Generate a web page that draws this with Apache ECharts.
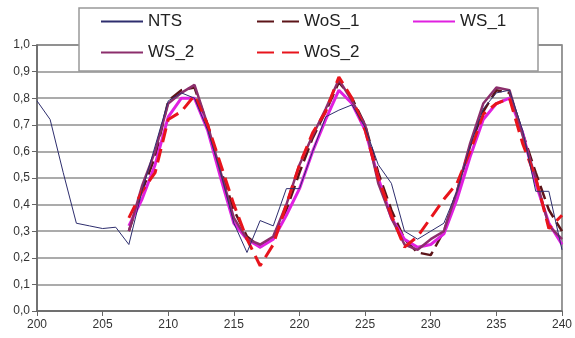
<!DOCTYPE html>
<html>
<head>
<meta charset="utf-8">
<script src="https://cdn.jsdelivr.net/npm/echarts@6/dist/echarts.min.js"></script>
<style>
  html, body { margin: 0; padding: 0; background: #fff; }
  #chart { width: 575px; height: 338px; }
</style>
</head>
<body>
<div id="chart"></div>
<script>
const days = [200, 201, 202, 203, 204, 205, 206, 207, 208, 209, 210,
    211, 212, 213, 214, 215, 216, 217, 218, 219, 220,
    221, 222, 223, 224, 225, 226, 227, 228, 229, 230,
    231, 232, 233, 234, 235, 236, 237, 238, 239, 240];

const nts = [0.79, 0.72, 0.52, 0.33, 0.32, 0.31, 0.315, 0.25, 0.45, 0.62, 0.79,
    0.82, 0.80, 0.68, 0.52, 0.33, 0.22, 0.34, 0.32, 0.46, 0.46,
    0.60, 0.73, 0.755, 0.775, 0.69, 0.55, 0.48, 0.30, 0.27, 0.30,
    0.33, 0.45, 0.62, 0.76, 0.82, 0.83, 0.68, 0.45, 0.45, 0.23];

const wos1 = [null, null, null, null, null, null, null, 0.30, 0.45, 0.58, 0.79,
    0.83, 0.84, 0.70, 0.53, 0.38, 0.28, 0.24, 0.28, 0.38, 0.52,
    0.65, 0.75, 0.86, 0.80, 0.70, 0.52, 0.38, 0.27, 0.22, 0.21,
    0.30, 0.45, 0.62, 0.75, 0.83, 0.82, 0.67, 0.52, 0.38, 0.30];

const ws1 = [null, null, null, null, null, null, null, 0.32, 0.42, 0.55, 0.73,
    0.80, 0.80, 0.68, 0.50, 0.33, 0.27, 0.24, 0.27, 0.36, 0.46,
    0.60, 0.72, 0.83, 0.78, 0.68, 0.50, 0.35, 0.27, 0.24, 0.25,
    0.29, 0.42, 0.58, 0.72, 0.78, 0.80, 0.67, 0.48, 0.33, 0.25];

const ws2 = [null, null, null, null, null, null, null, 0.30, 0.47, 0.60, 0.78,
    0.82, 0.85, 0.70, 0.52, 0.35, 0.27, 0.25, 0.28, 0.40, 0.55,
    0.66, 0.76, 0.87, 0.79, 0.70, 0.48, 0.35, 0.25, 0.23, 0.27,
    0.30, 0.45, 0.63, 0.78, 0.84, 0.83, 0.66, 0.50, 0.32, 0.27];

const wos2 = [null, null, null, null, null, null, null, 0.35, 0.45, 0.52, 0.72,
    0.75, 0.81, 0.70, 0.55, 0.40, 0.27, 0.17, 0.25, 0.40, 0.55,
    0.67, 0.75, 0.88, 0.80, 0.68, 0.50, 0.36, 0.24, 0.28, 0.35,
    0.42, 0.48, 0.60, 0.74, 0.78, 0.80, 0.63, 0.50, 0.31, 0.36];

const pairs = arr => days.map((d, i) => [d, arr[i]]);

const chart = echarts.init(document.getElementById('chart'));

const legendText = {fontFamily: 'Liberation Sans', fontSize: 17, color: '#222'};
const legendBase = {
    orient: 'vertical',
    itemWidth: 42,
    itemHeight: 10,
    itemGap: 14,
    padding: 0,
    textStyle: legendText,
    itemStyle: {opacity: 0, borderWidth: 0},
    z: 5
};
const legendDash = {type: [17, 8], dashOffset: 0};

const option = {
    animation: false,
    backgroundColor: '#fff',
    grid: {
        left: 37, right: 12, top: 45, bottom: 27,
        show: true,
        borderColor: '#777',
        borderWidth: 1.5
    },
    graphic: [{
        type: 'rect',
        shape: {x: 79, y: 8, width: 459, height: 63},
        style: {fill: '#fff', stroke: '#999', lineWidth: 1.5},
        z: 3
    }],
    legend: [
        Object.assign({}, legendBase, {left: 100, top: 13, data: ['NTS', 'WS_2']}),
        Object.assign({}, legendBase, {left: 256, top: 13, data: [
            {name: 'WoS_1', lineStyle: legendDash},
            {name: 'WoS_2', lineStyle: legendDash}
        ]}),
        Object.assign({}, legendBase, {left: 412, top: 13, data: ['WS_1']})
    ],
    xAxis: {
        type: 'value',
        min: 200,
        max: 240,
        interval: 5,
        axisLine: {lineStyle: {color: '#666', width: 1.5}},
        axisTick: {show: true, length: 5, lineStyle: {color: '#666'}},
        axisLabel: {fontFamily: 'Liberation Sans', fontSize: 12, color: '#333', margin: 8},
        splitLine: {show: false}
    },
    yAxis: {
        type: 'value',
        min: 0,
        max: 1,
        interval: 0.1,
        axisLine: {show: true, lineStyle: {color: '#666', width: 1.5}},
        axisTick: {show: true, length: 5, lineStyle: {color: '#666'}},
        axisLabel: {
            fontFamily: 'Liberation Sans', fontSize: 12, color: '#333', margin: 7,
            formatter: v => v.toFixed(1).replace('.', ',')
        },
        splitLine: {lineStyle: {color: '#8f8f8f', width: 1.5}}
    },
    series: [
        {
            name: 'NTS', type: 'line', data: pairs(nts), symbol: 'none', z: 7,
            itemStyle: {color: '#2e2e6e'},
            lineStyle: {color: '#2e2e6e', width: 1}
        },
        {
            name: 'WoS_1', type: 'line', data: pairs(wos1), symbol: 'none', z: 3,
            itemStyle: {color: '#5c1418'},
            lineStyle: {color: '#5c1418', width: 2.5, type: [14, 6]}
        },
        {
            name: 'WS_1', type: 'line', data: pairs(ws1), symbol: 'none', z: 4,
            itemStyle: {color: '#e020e0'},
            lineStyle: {color: '#e020e0', width: 3}
        },
        {
            name: 'WS_2', type: 'line', data: pairs(ws2), symbol: 'none', z: 5,
            itemStyle: {color: '#8c2e6c'},
            lineStyle: {color: '#8c2e6c', width: 2.5}
        },
        {
            name: 'WoS_2', type: 'line', data: pairs(wos2), symbol: 'none', z: 6,
            itemStyle: {color: '#e8141c'},
            lineStyle: {color: '#e8141c', width: 3, type: [14, 7]}
        }
    ]
};

chart.setOption(option);
</script>
</body>
</html>
